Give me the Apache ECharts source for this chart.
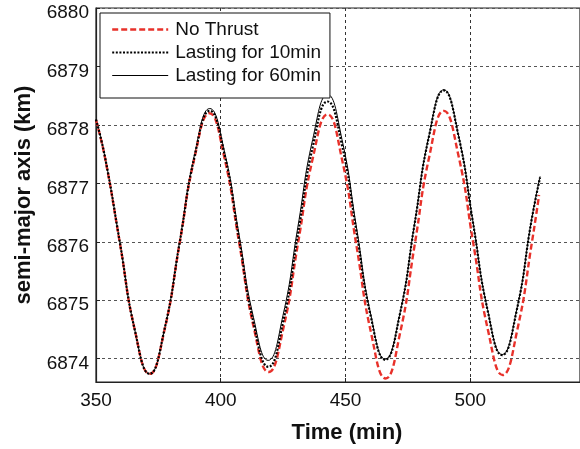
<!DOCTYPE html>
<html>
<head>
<meta charset="utf-8">
<script src="https://cdn.jsdelivr.net/npm/echarts@6/dist/echarts.min.js"></script>
<style>
html,body{margin:0;padding:0;background:#fff;}
#chart{width:580px;height:449px;}
</style>
</head>
<body>
<div id="chart"></div>
<script>
// Series names
var seriesNames = ['No Thrust', 'Lasting for 10min', 'Lasting for 60min'];

// No Thrust (red dashed)
var tNoThrust = [350, 353.6, 359.6, 365.5, 371.5, 377.5, 383.5, 389.5, 395.5, 401.4, 407.35, 413.3, 419.2, 425.1, 431.0, 436.9, 442.8, 448.6, 454.45, 460.3, 466.1, 471.9, 477.75, 483.6, 489.4, 495.3, 501.2, 507.1, 513.0, 518.9, 524.8, 527.6];
var vNoThrust = [6878.08, 6877.44, 6875.97, 6874.50, 6873.74, 6874.50, 6875.97, 6877.44, 6878.20, 6877.45, 6875.99, 6874.52, 6873.77, 6874.52, 6875.98, 6877.43, 6878.18, 6877.41, 6875.92, 6874.43, 6873.66, 6874.44, 6875.95, 6877.46, 6878.24, 6877.47, 6875.98, 6874.49, 6873.72, 6874.50, 6876.01, 6876.80];

// Lasting for 10min (black dotted)
var t10min = [350, 353.6, 359.6, 365.5, 371.5, 377.5, 383.55, 389.6, 395.6, 401.5, 407.35, 413.2, 419.1, 425.0, 430.95, 436.9, 442.8, 448.6, 454.35, 460.1, 465.9, 471.8, 477.65, 483.5, 489.4, 495.25, 501.1, 506.95, 512.8, 518.7, 524.55, 528.0];
var v10min = [6878.09, 6877.45, 6875.98, 6874.50, 6873.74, 6874.51, 6875.99, 6877.48, 6878.24, 6877.50, 6876.05, 6874.60, 6873.86, 6874.63, 6876.13, 6877.63, 6878.40, 6877.65, 6876.19, 6874.73, 6873.98, 6874.76, 6876.29, 6877.81, 6878.59, 6877.82, 6876.33, 6874.83, 6874.06, 6874.84, 6876.36, 6877.10];

// Lasting for 60min (black solid)
var t60min = [350, 353.6, 359.6, 365.5, 371.5, 377.5, 383.55, 389.6, 395.6, 401.45, 407.3, 413.15, 419.0, 424.95, 430.9, 436.85, 442.8, 448.6, 454.35, 460.1, 465.9, 471.8, 477.65, 483.5, 489.4, 495.25, 501.1, 506.95, 512.8, 518.7, 524.55, 528.0];
var v60min = [6878.10, 6877.45, 6875.98, 6874.50, 6873.74, 6874.51, 6876.01, 6877.51, 6878.28, 6877.55, 6876.13, 6874.70, 6873.97, 6874.74, 6876.25, 6877.75, 6878.52, 6877.75, 6876.26, 6874.76, 6873.99, 6874.77, 6876.30, 6877.82, 6878.60, 6877.83, 6876.34, 6874.84, 6874.07, 6874.85, 6876.37, 6877.12];

function pairs(t, v) { return t.map(function (x, i) { return [x, v[i]]; }); }

var FONT = "'Liberation Sans', Arial, Helvetica, sans-serif";
var chart = echarts.init(document.getElementById('chart'), null, {renderer: 'canvas'});
chart.setOption({
  animation: false,
  backgroundColor: '#fff',
  grid: {left: 96, top: 8, right: -18, bottom: 66, show: true, borderColor: '#222', borderWidth: 1.2, backgroundColor: 'transparent'},
  legend: {
    orient: 'vertical', left: 100, top: 13,
    data: seriesNames,
    backgroundColor: '#fff', borderColor: '#111', borderWidth: 1,
    padding: [7, 9, 13, 11],
    itemWidth: 56, itemHeight: 14, itemGap: 4,
    itemStyle: {opacity: 0},
    lineStyle: {width: 'inherit'},
    textStyle: {fontFamily: FONT, fontSize: 19, color: '#111', padding: [0, 0, 0, 2]},
    selectedMode: false
  },
  xAxis: {
    type: 'value', min: 350, max: 544, interval: 50,
    name: 'Time (min)', nameLocation: 'middle', nameGap: 40,
    nameTextStyle: {fontFamily: FONT, fontSize: 22, fontWeight: 'bold', color: '#111', padding: [0, 0, 0, 18]},
    axisLine: {show: true, lineStyle: {color: '#222', width: 1.2}},
    axisTick: {show: true, inside: true, length: 4, lineStyle: {color: '#222'}},
    axisLabel: {fontFamily: FONT, fontSize: 19, color: '#111', margin: 9, showMaxLabel: false,
                formatter: function (v) { return String(v); }},
    splitLine: {show: true, lineStyle: {color: '#333', type: [3, 3], width: 1}}
  },
  yAxis: {
    type: 'value', min: 6873.6, max: 6880, splitNumber: 6,
    name: 'semi-major axis (km)', nameLocation: 'middle', nameGap: 61,
    nameTextStyle: {fontFamily: FONT, fontSize: 22, fontWeight: 'bold', color: '#111'},
    axisLine: {show: true, lineStyle: {color: '#222', width: 1.2}},
    axisTick: {show: true, inside: true, length: 4, lineStyle: {color: '#222'}},
    axisLabel: {fontFamily: FONT, fontSize: 19, color: '#111', margin: 7, showMinLabel: false,
                verticalAlign: 'top', lineHeight: 10,
                formatter: function (v) { return String(v); }},
    splitLine: {show: true, lineStyle: {color: '#555', type: [3, 3], width: 1}}
  },
  series: [
    {name: seriesNames[0], type: 'line', data: pairs(tNoThrust, vNoThrust), smooth: 0.5, showSymbol: false, symbol: 'none', z: 3,
     lineStyle: {color: '#e8312a', width: 2.4, type: [6, 3]}, itemStyle: {color: '#e8312a'}},
    {name: seriesNames[1], type: 'line', data: pairs(t10min, v10min), smooth: 0.5, showSymbol: false, symbol: 'none', z: 4,
     lineStyle: {color: '#000', width: 2.2, type: [2, 1.6]}, itemStyle: {color: '#000'}},
    {name: seriesNames[2], type: 'line', data: pairs(t60min, v60min), smooth: 0.5, showSymbol: false, symbol: 'none', z: 2,
     lineStyle: {color: '#000', width: 1}, itemStyle: {color: '#000'}}
  ]
});
</script>
</body>
</html>
